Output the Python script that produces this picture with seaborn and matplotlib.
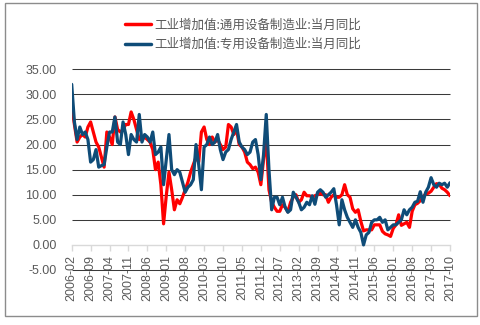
import matplotlib
matplotlib.use("Agg")
import matplotlib.pyplot as plt
from matplotlib.patches import Rectangle
from matplotlib.lines import Line2D
import seaborn as sns
import pandas as pd
import numpy as np

months = [str(p) for p in pd.period_range("2006-02", "2017-10", freq="M")]

general_equipment = [
    27.8, 24.0, 20.5, 21.5, 22.0, 21.5, 23.5, 24.5, 22.5, 20.5,
    19.5, 17.5, 15.5, 22.5, 21.5, 20.0, 25.5, 23.0, 22.5, 23.0,
    24.0, 24.0, 26.5, 25.0, 23.0, 21.0, 21.0, 21.5, 21.0, 20.5,
    19.0, 15.0, 16.5, 12.0, 4.2, 9.8, 14.5, 11.0, 7.0, 9.0,
    8.2, 9.5, 11.0, 12.5, 14.5, 16.0, 17.5, 16.5, 22.5, 23.5,
    21.0, 20.0, 21.5, 20.5, 21.0, 20.0, 19.0, 19.5, 24.0, 23.5,
    22.0, 23.0, 20.0, 19.5, 18.5, 16.5, 16.0, 15.2, 15.5, 14.5,
    12.0, 17.0, 21.3, 11.0, 8.5, 7.5, 6.7, 6.7, 8.0, 7.5,
    6.6, 8.5, 9.5, 10.0, 8.5, 9.0, 10.5, 9.8, 9.8, 9.5,
    9.8, 10.0, 10.3, 10.0, 10.0, 8.5, 9.5, 10.0, 9.5, 9.5,
    10.0, 12.0, 10.0, 9.5, 7.2, 6.5, 7.0, 4.7, 2.8, 3.0,
    3.0, 3.0, 4.0, 4.0, 4.0, 2.7, 2.2, 2.0, 1.7, 3.3,
    4.0, 6.0, 3.9, 4.2, 4.5, 3.5, 6.7, 8.0, 8.3, 8.8,
    9.5, 10.2, 10.3, 10.7, 11.5, 12.2, 12.1, 11.3, 11.0, 10.5,
    9.8,
]

special_equipment = [
    32.0, 24.5, 21.0, 23.5, 22.0, 22.5, 21.0, 16.5, 17.0, 19.0,
    15.5, 15.8, 16.0, 19.5, 22.5, 22.5, 25.5, 20.5, 20.0, 24.5,
    22.0, 18.0, 22.0, 21.0, 20.5, 26.0, 20.5, 22.0, 21.5, 20.5,
    22.5, 18.0, 18.5, 19.5, 12.0, 17.0, 22.0, 15.0, 14.0, 15.0,
    14.5, 12.5, 10.5, 11.5, 12.0, 13.0, 20.0, 16.0, 11.0, 19.5,
    20.0, 21.5, 20.0, 20.5, 22.0, 19.0, 17.0, 18.5, 19.0, 21.0,
    22.5, 24.0, 20.5, 19.5, 19.0, 18.0, 18.5, 20.5, 21.0, 18.0,
    13.0, 18.0, 26.0, 15.0, 7.0, 9.5, 9.5, 8.0, 9.5, 7.5,
    6.5, 7.0, 10.5, 9.5, 8.5, 7.0, 7.5, 8.5, 8.0, 9.8,
    8.1, 10.5, 11.0, 10.5, 9.5, 10.0, 10.5, 11.2, 8.0, 4.0,
    9.0, 7.0, 5.5, 4.5, 3.5, 5.0, 3.5, 2.5, 0.0, 2.0,
    2.5, 4.5, 5.0, 5.0, 5.5, 4.5, 5.0, 3.0, 3.5, 4.0,
    4.0, 4.5, 5.0, 7.0, 6.0, 7.0, 7.5, 8.5, 8.7, 10.6,
    8.5, 10.5, 11.5, 13.4, 12.0, 11.5, 12.3, 12.0, 12.3, 11.5,
    12.4,
]

series_names = ["工业增加值:通用设备制造业:当月同比", "工业增加值:专用设备制造业:当月同比"]
series_colors = ["#ff0000", "#0f4c78"]
yticks = [-5, 0, 5, 10, 15, 20, 25, 30, 35]

sns.set_theme(style="white")
plt.rcParams["font.family"] = ["Liberation Sans", "Noto Sans CJK SC", "DejaVu Sans"]

idx = np.arange(len(months))
df = pd.DataFrame({
    "idx": np.concatenate([idx, idx]),
    "value": general_equipment + special_equipment,
    "series": [series_names[0]] * len(months) + [series_names[1]] * len(months),
})

fig = plt.figure(figsize=(4.8, 3.25), dpi=100)
ax = fig.add_axes([71.7 / 480, 1 - 270 / 325, (450 - 71.7) / 480, (270 - 69.3) / 325])
ax.spines["bottom"].set_position(("data", 0))

sns.lineplot(data=df, x="idx", y="value", hue="series", palette=series_colors,
             hue_order=series_names, linewidth=2.3, ax=ax, legend=False, zorder=3)

xend = len(months) - 1
ax.set_xlim(0, xend)
ax.set_ylim(-5, 35)
ax.set_yticks(yticks)
ax.set_yticklabels([f"{v:.2f}" for v in yticks])
tick_pos = list(range(0, len(months), 7))
ax.set_xticks(tick_pos)
ax.set_xticklabels([months[i] for i in tick_pos])
ax.set_xlabel("")
ax.set_ylabel("")

for s in ["left", "right", "top"]:
    ax.spines[s].set_visible(False)
ax.spines["bottom"].set_color("#d9d9d9")
ax.spines["bottom"].set_linewidth(1.0)
ax.spines["bottom"].set_zorder(2)

ax.tick_params(axis="x", bottom=True, length=4, width=1, color="#d9d9d9",
               direction="out", pad=3, labelsize=9, labelcolor="#595959",
               labelrotation=90)
ax.tick_params(axis="y", left=False, length=0, pad=11, labelsize=9, labelcolor="#595959")
for lab in ax.get_xticklabels():
    lab.set_va("top")
    lab.set_ha("center")

grid_y = [v for v in yticks if v != 0]
grid = ax.hlines(grid_y, xmin=0, xmax=xend, colors="#3a3a3a", linewidths=0.75,
                 linestyles="solid", zorder=2.5)
grid.set_snap(True)
grid.set_clip_on(False)

handles = [Line2D([0], [0], color=c, lw=2.5) for c in series_colors]
fig.legend(handles, series_names, loc="center", bbox_to_anchor=(0.506, 0.893),
           frameon=False, ncol=1, handlelength=2.1, handletextpad=0.25,
           labelspacing=0.5, prop={"family": ["Noto Sans CJK SC", "DejaVu Sans"], "size": 9},
           labelcolor="#595959")

fig.patches.append(Rectangle((5 / 480, 1 - 316 / 325), 472 / 480, 313 / 325,
                             transform=fig.transFigure, fill=False,
                             edgecolor="#8c8c8c", linewidth=1.0))

fig.savefig("out.png", dpi=100)
